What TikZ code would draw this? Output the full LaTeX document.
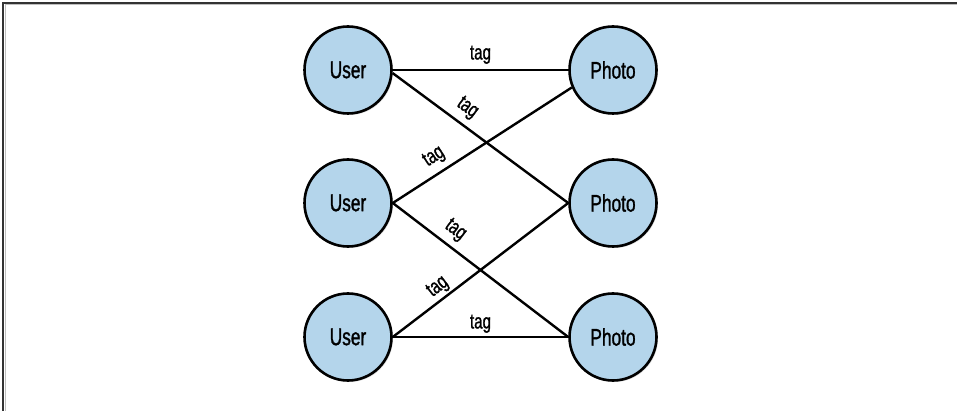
\documentclass[tikz,border=0pt]{standalone}
\usepackage{fontspec}
\setmainfont{Liberation Sans}[FakeStretch=0.72,FakeBold=1.2]
\usepackage{tikz}
\usetikzlibrary{shadows}
\definecolor{nodeblue}{HTML}{B4D5EB}

\tikzset{
  entity/.style={circle, draw=black, line width=2.6pt, fill=nodeblue,
    minimum size=87pt, inner sep=0pt, font=\fontsize{24}{27}\selectfont,
    drop shadow={shadow xshift=1.5pt, shadow yshift=-1.5pt, opacity=0.25}},
  rel/.style={line width=2.4pt},
  lbl/.style={font=\fontsize{21}{24}\selectfont, inner sep=2pt}
}

\begin{document}
\begin{tikzpicture}[x=1pt,y=-1pt]
  \useasboundingbox (0,0) rectangle (957,411);
  % frame
  \draw[line width=2pt, black!80] (3,411) -- (3,3) -- (957,3);
  \draw[line width=1pt, black!25] (5,411) -- (5,5) -- (957,5);

  % nodes
  \node[entity] (u1) at (348,70) {User};
  \node[entity] (u2) at (348,203) {User};
  \node[entity] (u3) at (348,337) {User};
  \node[entity] (p1) at (613,70) {Photo};
  \node[entity] (p2) at (613,203) {Photo};
  \node[entity] (p3) at (613,337) {Photo};

  % edges
  \draw[rel] (u1.east) -- node[lbl, above=3pt] {tag} (p1.west);
  \draw[rel] (u1.-4) -- node[lbl, pos=0.37, sloped, above=4pt] {tag} (p2.west);
  \draw[rel] (u2.east) -- node[lbl, pos=0.28, sloped, above=4pt] {tag} (p1.203);
  \draw[rel] (u2.east) -- node[lbl, pos=0.30, sloped, above=4pt] {tag} (p3.west);
  \draw[rel] (u3.east) -- node[lbl, pos=0.30, sloped, above=0pt] {tag} (p2.west);
  \draw[rel] (u3.east) -- node[lbl, above=1pt] {tag} (p3.west);
\end{tikzpicture}
\end{document}
